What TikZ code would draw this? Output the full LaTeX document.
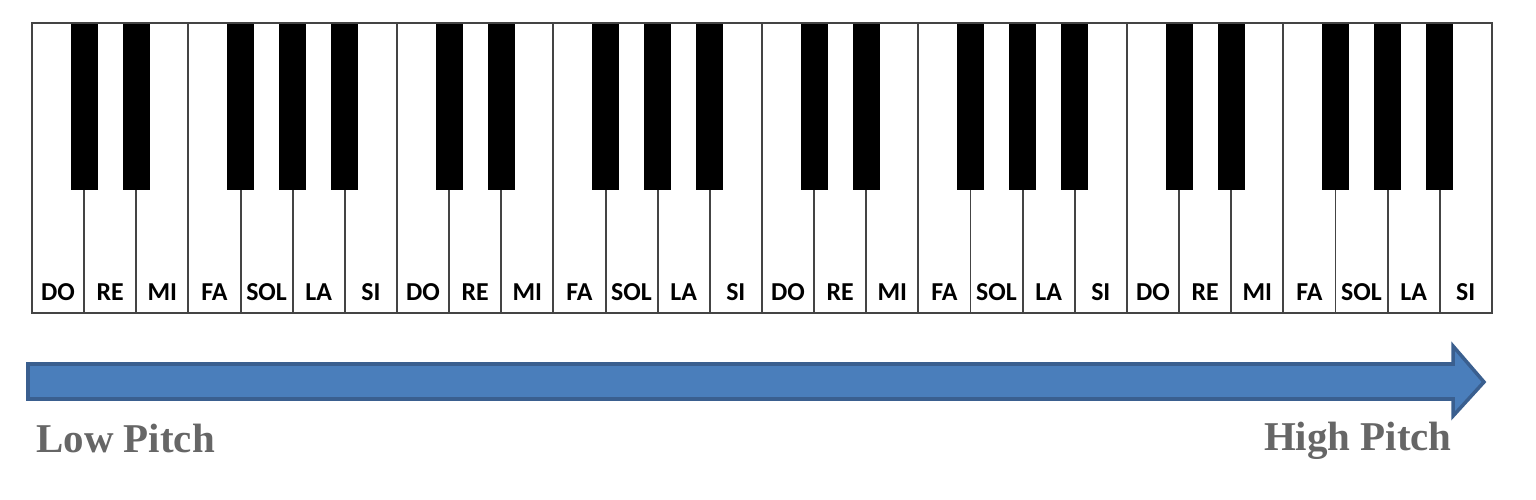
\documentclass[tikz,border=0pt]{standalone}
\usepackage{fontspec}
\usepackage{tikz}
\newfontfamily\keyfont{Carlito}
\newfontfamily\pitchfont{Liberation Serif}
\definecolor{keyline}{HTML}{444444}
\definecolor{arrowblue}{HTML}{4A7EBB}
\definecolor{arrowedge}{HTML}{3A5F8F}
\definecolor{pitchgray}{HTML}{666666}

\begin{document}
\begin{tikzpicture}[x=0.02cm,y=-0.02cm]

  \tikzstyle{whitekey}=[draw=keyline, line width=1.1pt, fill=white]
  \tikzstyle{blackkey}=[fill=black]
  \tikzstyle{notename}=[inner sep=0pt, anchor=center,
                        font=\keyfont\bfseries\fontsize{14.7}{16}\selectfont]
  \tikzstyle{pitch}=[inner sep=0pt, text=pitchgray,
                     font=\pitchfont\bfseries\fontsize{23.3}{26}\selectfont]
  \tikzstyle{bigarrow}=[draw=arrowedge, line width=2pt, fill=arrowblue,
                        line join=miter]

  \useasboundingbox (0,0) rectangle (1536,500);

  % white keys and their names
  \foreach \o in {0,...,3}
    \foreach \n [count=\k from 0] in {DO,RE,MI,FA,SOL,LA,SI} {
      \draw[whitekey] ({32+(7*\o+\k)*52.14},23) rectangle +(52.14,290);
      \path ({58+(7*\o+\k)*52.14},292) node[notename](n\o\k){\n};
    }

  % black keys
  \foreach \o in {0,...,3}
    \foreach \b in {1,2,4,5,6}
      \fill[blackkey] ({32+(7*\o+\b)*52.14-13.5},23) rectangle +(27,167);

  \draw[keyline, line width=1.1pt] (32,23) rectangle (1492,313);

  % pitch arrow
  \draw[bigarrow] (28,364) -- (1453,364) -- (1453,346) -- (1484,382)
    -- (1453,416) -- (1453,399) -- (28,399) -- cycle;

  \path
  (36,452)   node[pitch, anchor=base west](low){Low Pitch}
  (1452,450) node[pitch, anchor=base east](high){High Pitch};

\end{tikzpicture}
\end{document}
